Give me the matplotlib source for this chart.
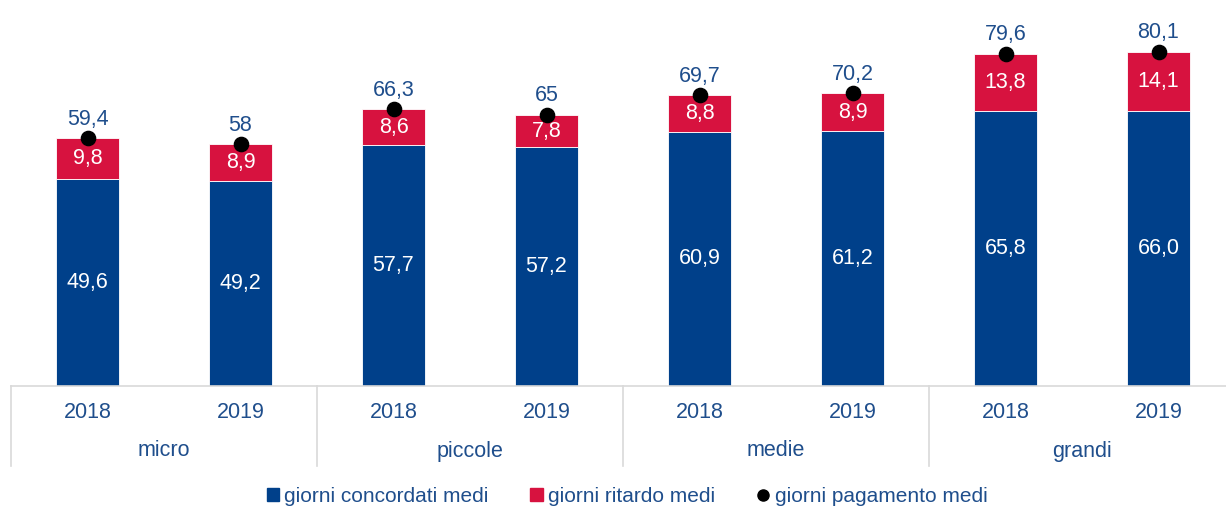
import numpy as np
import matplotlib.pyplot as plt
from matplotlib.transforms import blended_transform_factory
from matplotlib.lines import Line2D
from matplotlib.patches import Patch

plt.rcParams['font.family'] = ['Liberation Sans', 'DejaVu Sans']

groups = ['micro', 'piccole', 'medie', 'grandi']
years = ['2018', '2019']
concordati = [49.6, 49.2, 57.7, 57.2, 60.9, 61.2, 65.8, 66.0]
ritardo = [9.8, 8.9, 8.6, 7.8, 8.8, 8.9, 13.8, 14.1]
pagamento = [59.4, 58, 66.3, 65, 69.7, 70.2, 79.6, 80.1]
pagamento_lbl = ['59,4', '58', '66,3', '65', '69,7', '70,2', '79,6', '80,1']

blue = '#00408A'
red = '#D7123F'
txt = '#1F4E8C'
grid = '#D9D9D9'
fs = 15.5

fig = plt.figure(figsize=(12.26, 5.09), dpi=100)
W, H = 1226, 509
ax = fig.add_axes([11 / W, (H - 386) / H, 1224 / W, 386 / H])

x = np.arange(len(concordati))
ax.bar(x, concordati, width=0.41, color=blue, edgecolor='white', linewidth=0.6)
ax.bar(x, ritardo, bottom=concordati, width=0.41, color=red, edgecolor='white', linewidth=0.6)
ax.scatter(x, pagamento, s=105, color='black', zorder=3)

for i in range(len(x)):
    ax.text(x[i], concordati[i] / 2, f'{concordati[i]:.1f}'.replace('.', ','),
            ha='center', va='center', color='white', fontsize=fs)
    ax.text(x[i], concordati[i] + ritardo[i] / 2, f'{ritardo[i]:.1f}'.replace('.', ','),
            ha='center', va='center', color='white', fontsize=fs)
    ax.text(x[i], pagamento[i] + 2.0, pagamento_lbl[i],
            ha='center', va='bottom', color=txt, fontsize=fs)

ax.set_xlim(-0.5, 7.5)
ax.set_ylim(0, 92.5)
ax.set_xticks([])
ax.set_yticks([])
for s in ['top', 'right', 'left']:
    ax.spines[s].set_visible(False)
ax.spines['bottom'].set_color(grid)
ax.spines['bottom'].set_linewidth(1.2)

tr = blended_transform_factory(ax.transData, ax.transAxes)
px = 1 / 386
for i in range(len(x)):
    ax.text(x[i], -26 * px, years[i % 2], transform=tr, ha='center', va='center',
            color=txt, fontsize=fs)
for g in range(len(groups)):
    ax.text(2 * g + 0.5, -65 * px, groups[g], transform=tr, ha='center', va='center',
            color=txt, fontsize=fs)
    ax.plot([2 * g - 0.5, 2 * g - 0.5], [0, -80 * px], transform=tr, color=grid,
            linewidth=1.2, clip_on=False)

handles = [Patch(color=blue), Patch(color=red),
           Line2D([], [], marker='o', color='black', linestyle='none', markersize=8)]
labels = ['giorni concordati medi', 'giorni ritardo medi', 'giorni pagamento medi']
leg = fig.legend(handles, labels, loc='center', bbox_to_anchor=(627 / W, 1 - 496 / H),
                 ncol=3, frameon=False, fontsize=15, handlelength=0.6, handleheight=0.6,
                 handletextpad=0.25, columnspacing=2.0)
for t in leg.get_texts():
    t.set_color(txt)

fig.savefig('out.png', dpi=100)
